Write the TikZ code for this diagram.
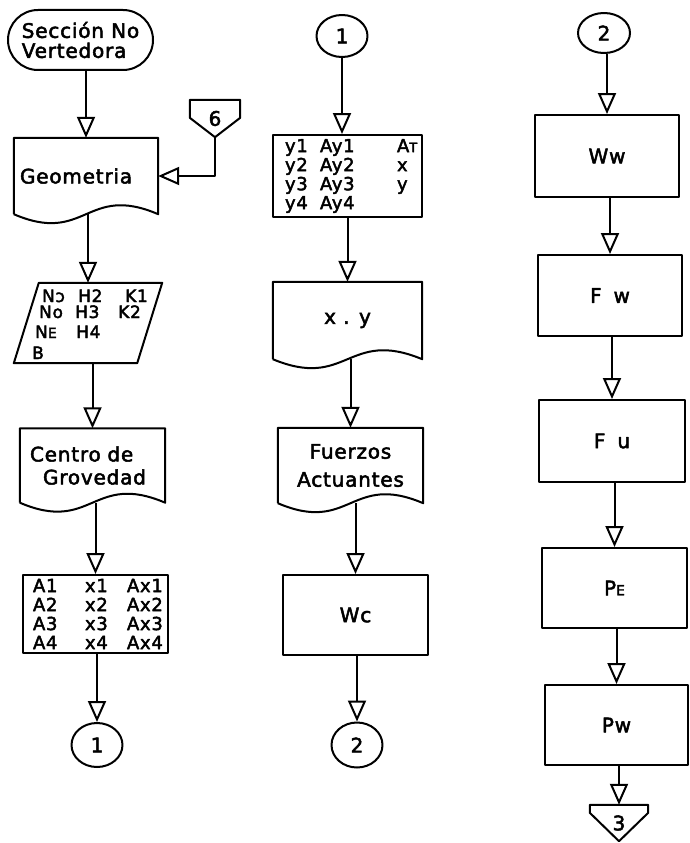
\documentclass[tikz,border=0pt]{standalone}
\usepackage{fontspec}
\setmainfont[LetterSpace=4,FakeBold=2.5]{DejaVu Sans}
\usetikzlibrary{arrows.meta,calc,shapes.misc,shapes.geometric}
\newcommand{\bigf}{\fontsize{20}{20}\selectfont}
\newcommand{\tabf}{\fontsize{18}{19}\selectfont}
\newcommand{\smE}{{\fontsize{14}{14}\selectfont E}}
\newcommand{\docpath}[1]{\draw[ln] (#1.south west) -- (#1.north west) -- (#1.north east) -- (#1.south east) .. controls ($(#1.south)+(0,-31)$) and ($(#1.south)+(0,31)$) .. (#1.south west);}
\newcommand{\offpage}[2]{\draw[ln] (#1.north west) -- (#1.north east) -- ($(#1.north east)+(0,#2)$) -- (#1.south) -- ($(#1.north west)+(0,#2)$) -- cycle;}
\tikzset{
  ln/.style={line width=2pt, line join=round},
  arr/.style={ln, -{Triangle[open,length=21pt,width=18pt]}},
  ghost/.style={rectangle, inner sep=0pt},
  boxn/.style={draw, ln, rectangle, inner sep=0pt, font=\bigf},
  tabbox/.style={draw, ln, rectangle, inner ysep=0pt, align=left, font=\tabf},
  conn/.style={draw, ln, ellipse, inner sep=0pt, font=\bigf},
  term/.style={draw, ln, rounded rectangle, inner sep=0pt, align=left, font=\fontsize{20}{20}\selectfont},
  ptxt/.style={anchor=base west, inner sep=0pt, font=\fontsize{17}{17}\selectfont}
}
\begin{document}
\begin{tikzpicture}[x=1pt,y=-1pt]
\fill[white] (0,0) rectangle (689,843);
\useasboundingbox (0,0) rectangle (689,843);
% ---------- column 1
\node[term, minimum width=145pt, minimum height=60pt] (start) at (80.5,40) {Sección No\\Vertedora};
\node[ghost, minimum width=144pt, minimum height=76pt, text width=132pt, align=left, font=\bigf] (geo) at (86,176) {Geometria};
\docpath{geo}
\node[ghost, minimum width=50pt, minimum height=37pt, font=\bigf] (c6) at (215,118.5) {6};
\offpage{c6}{18}
\node[ghost, minimum width=148pt, minimum height=80pt] (par) at (88,323) {};
\draw[ln] ($(par.north west)+(25,0)$) -- (par.north east) -- ($(par.south east)+(-25,0)$) -- (par.south west) -- cycle;
\node[ptxt] (p1) at (42,302) {Nɔ};
\node[ptxt] (p2) at (78,302) {H2};
\node[ptxt] (p3) at (125,302) {K1};
\node[ptxt] (p4) at (39,318) {No};
\node[ptxt] (p5) at (75,318) {H3};
\node[ptxt] (p6) at (118,318) {K2};
\node[ptxt] (p7) at (35,338) {N\smE};
\node[ptxt] (p8) at (76,338) {H4};
\node[ptxt] (p9) at (32,359) {B};
\node[ghost, minimum width=145pt, minimum height=74pt, text width=125pt, align=left, font=\fontsize{20}{23}\selectfont] (cg) at (92.5,465.5) {Centro de\\\hspace*{13pt}Grovedad};
\docpath{cg}
\node[tabbox, minimum height=78pt, inner xsep=10pt, text width=125pt] (ta) at (95.5,614)
 {\makebox[52pt][l]{A1}\makebox[42pt][l]{x1}Ax1\\
  \makebox[52pt][l]{A2}\makebox[42pt][l]{x2}Ax2\\
  \makebox[52pt][l]{A3}\makebox[42pt][l]{x3}Ax3\\
  \makebox[52pt][l]{A4}\makebox[42pt][l]{x4}Ax4};
\node[conn, minimum width=51pt, minimum height=44pt] (k1) at (97,745) {1};
% ---------- column 2
\node[conn, minimum width=51pt, minimum height=42pt] (k1b) at (342,36) {1};
\node[tabbox, minimum height=82pt, inner xsep=12pt, text width=125pt] (tb) at (347.5,176)
 {\makebox[35pt][l]{y1}\makebox[77pt][l]{Ay1}A{\fontsize{13}{13}\selectfont T}\\
  \makebox[35pt][l]{y2}\makebox[77pt][l]{Ay2}x\\
  \makebox[35pt][l]{y3}\makebox[77pt][l]{Ay3}y\\
  \makebox[35pt][l]{y4}\makebox[77pt][l]{Ay4}};
\node[ghost, minimum width=149pt, minimum height=77pt, font=\bigf] (xy) at (347.5,320.5) {x . y};
\docpath{xy}
\node[ghost, minimum width=145pt, minimum height=75pt, align=center, font=\fontsize{20}{28}\selectfont] (fa) at (350.5,465.5) {Fuerzos\\Actuantes};
\docpath{fa}
\node[boxn, minimum width=145pt, minimum height=80pt] (wc) at (355.5,615) {Wc};
\node[conn, minimum width=51pt, minimum height=45pt] (k2) at (357,745) {2};
% ---------- column 3
\node[conn, minimum width=52pt, minimum height=40pt] (k2b) at (604,33) {2};
\node[boxn, minimum width=144pt, minimum height=82pt] (ww) at (607,156) {Ww};
\node[boxn, minimum width=144pt, minimum height=81pt] (fw) at (610,295.5) {F\hspace{12pt}w};
\node[boxn, minimum width=146pt, minimum height=82pt] (fu) at (612,441) {F\hspace{12pt}u};
\node[boxn, minimum width=145pt, minimum height=80pt] (pe) at (614.5,588) {P\smE};
\node[boxn, minimum width=143pt, minimum height=80pt] (pw) at (616.5,725) {Pw};
\node[ghost, minimum width=58pt, minimum height=36pt, font=\bigf] (c3) at (619,823) {3};
\offpage{c3}{8}
% ---------- connectors
\draw[arr] (geo.north |- start.south) -- (geo.north);
\draw[arr] (c6.south) |- (geo.east);
\draw[arr] (par.north |- geo.south) -- (par.north);
\draw[arr] (cg.north |- par.south) -- (cg.north);
\draw[arr] (ta.north |- cg.south) -- (ta.north);
\draw[arr] (k1.north |- ta.south) -- (k1.north);
\draw[arr] (k1b.south) -- (tb.north -| k1b.south);
\draw[arr] (xy.north |- tb.south) -- (xy.north);
\draw[arr] (fa.north |- xy.south) -- (fa.north);
\draw[arr] (wc.north |- fa.south) -- (wc.north);
\draw[arr] (k2.north |- wc.south) -- (k2.north);
\draw[arr] (ww.north |- k2b.south) -- (ww.north);
\draw[arr] (fw.north |- ww.south) -- (fw.north);
\draw[arr] (fu.north |- fw.south) -- (fu.north);
\draw[arr] (pe.north |- fu.south) -- (pe.north);
\draw[arr] (pw.north |- pe.south) -- (pw.north);
\draw[arr] (c3.north |- pw.south) -- (c3.north);
\end{tikzpicture}
\end{document}
